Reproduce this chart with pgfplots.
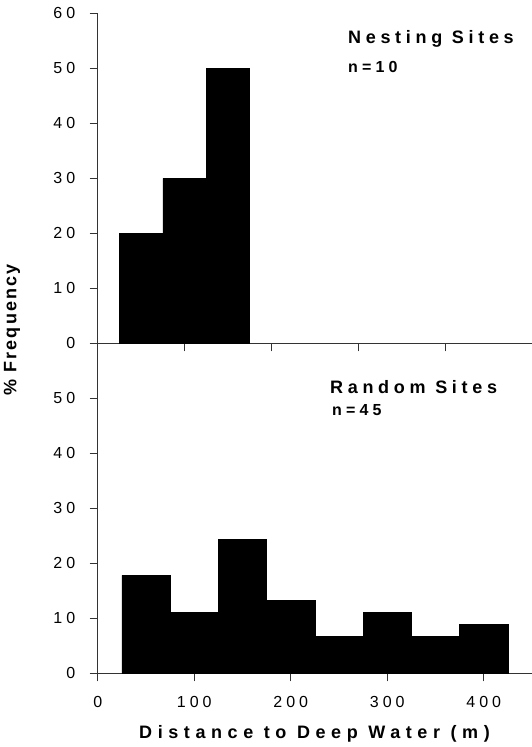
\documentclass[border=0pt]{standalone}
\usepackage{fontspec}
\setmainfont{Liberation Sans}
\newfontfamily\tickfont[LetterSpace=25]{Liberation Sans}
\newfontfamily\titlefont[LetterSpace=26]{Liberation Sans Bold}
\newfontfamily\xlabfont[LetterSpace=31]{Liberation Sans Bold}
\newfontfamily\ylabfont[LetterSpace=12]{Liberation Sans Bold}
\usepackage{pgfplots}
\pgfplotsset{compat=1.18}
\begin{document}
\begin{tikzpicture}[x=1pt,y=1pt]
\useasboundingbox (0,0) rectangle (532,-747);
\pgfplotsset{
  panel/.style={
    scale only axis, width=434.3pt, height=330pt,
    xmin=0, xmax=500, ymin=0, ymax=60,
    axis lines=left, axis line style={-, line width=1.1pt, black!80},
    tick align=outside, major tick length=8pt,
    tick style={line width=1pt, black!80},
    /pgf/number format/assume math mode=true,
    ticklabel style={font=\tickfont\fontsize{16}{18}\selectfont},
    yticklabel style={xshift=-11pt},
    xticklabel style={yshift=-11pt},
    clip=false,
  }
}
\begin{axis}[panel, at={(97.7pt,-343.3pt)}, anchor=south west,
  xmax=500, ytick={0,10,...,60}, xtick={100,200,300,400}, xticklabels={}]
  \addplot[sharp plot, fill=black, draw=black, line width=0.5pt] coordinates {
    (25,0) (25,20) (75,20) (75,30) (125,30) (125,50) (175,50) (175,0)} \closedcycle;
\end{axis}
\begin{axis}[panel, at={(97.7pt,-673.3pt)}, anchor=south west,
  xmax=450, ytick={0,10,...,50}, xtick={0,100,...,400}]
  \addplot[sharp plot, fill=black, draw=black, line width=0.5pt] coordinates {
    (25,0) (25,17.8) (75,17.8) (75,11.1) (125,11.1) (125,24.4) (175,24.4)
    (175,13.3) (225,13.3) (225,6.7) (275,6.7) (275,11.1) (325,11.1)
    (325,6.7) (375,6.7) (375,8.9) (425,8.9) (425,0)} \closedcycle;
\end{axis}
\node[anchor=base west, inner sep=0pt, font=\titlefont\fontsize{18}{20}\selectfont] at (348,-43) {Nesting Sites};
\node[anchor=base west, inner sep=0pt, font=\titlefont\fontsize{16}{18}\selectfont] at (348,-72) {n=10};
\node[anchor=base west, inner sep=0pt, font=\titlefont\fontsize{18}{20}\selectfont] at (330,-393) {Random Sites};
\node[anchor=base west, inner sep=0pt, font=\titlefont\fontsize{16}{18}\selectfont] at (332,-415) {n=45};
\node[anchor=base, inner sep=0pt, font=\xlabfont\fontsize{18}{20}\selectfont] at (314.5,-738) {Distance to Deep Water (m)};
\node[rotate=90, inner sep=0pt, font=\ylabfont\fontsize{18}{20}\selectfont] at (12,-330) {\% Frequency};
\end{tikzpicture}
\end{document}
